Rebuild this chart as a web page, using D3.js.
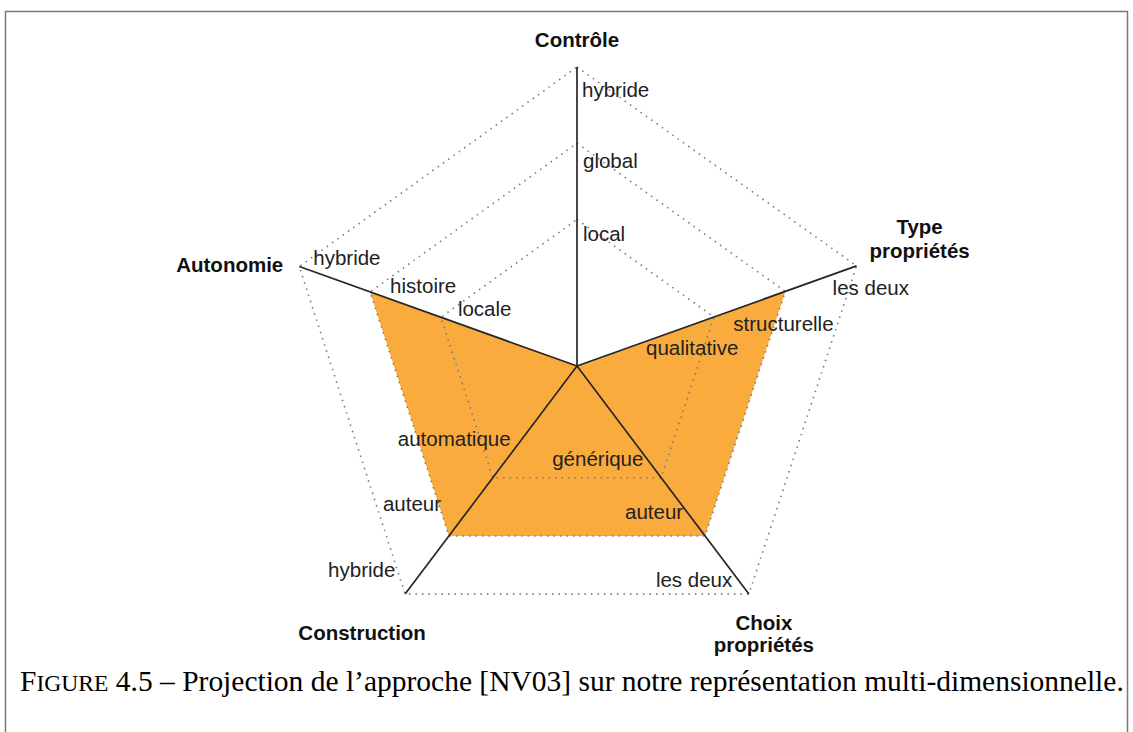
<!DOCTYPE html>
<html>
<head>
<meta charset="utf-8">
<script src="https://cdn.jsdelivr.net/npm/d3@7"></script>
<style>
  html, body { margin: 0; padding: 0; background: #fff; }
  svg { display: block; }
</style>
</head>
<body>
<svg id="chart" width="1133" height="732"></svg>
<script>
// ---------------- DATA ----------------
const axisNames = ["Contrôle", "Type propriétés", "Choix propriétés", "Construction", "Autonomie"];
const axisTitleLines = [["Contrôle"], ["Type", "propriétés"], ["Choix", "propriétés"], ["Construction"], ["Autonomie"]];
const levelValues = [2, 3, 4];
const controleLevels = ["local", "global", "hybride"];
const typeLevels = ["qualitative", "structurelle", "les deux"];
const choixLevels = ["générique", "auteur", "les deux"];
const constructionLevels = ["automatique", "auteur", "hybride"];
const autonomieLevels = ["locale", "histoire", "hybride"];
const nv03Values = [0, 3, 3, 3, 3];
const captionPrefix = "F";
const captionSmallCaps = "IGURE";
const captionRest = " 4.5 – Projection de l’approche [NV03] sur notre représentation multi-dimensionnelle.";

// ---------------- LAYOUT ----------------
const levelLabels = [controleLevels, typeLevels, choixLevels, constructionLevels, autonomieLevels];
const center = [577, 366];
const axisGeom = [
  { angle: 0, len: 299 },
  { angle: 70.3, len: 297 },
  { angle: 143, len: 285.6 },
  { angle: -143, len: 285.6 },
  { angle: -70.3, len: 295 }
];
// label nudges relative to each level point (text-anchor start, baseline)
const labelNudge = [
  [[6, 22], [6, 25], [5, 30]],
  [[-68, 38], [-52, 40], [-24, 29]],
  [[-109, -12], [-80, -17], [-93, -7]],
  [[-95, -32], [-66, -25], [-77, -17]],
  [[17, -1], [20, 1], [14, -2]]
];
const titlePlace = [
  { dx: 0, dy: -20, anchor: "middle", lh: 24 },
  { dx: 63, dy: -32, anchor: "middle", lh: 24 },
  { dx: 15, dy: 36, anchor: "middle", lh: 22 },
  { dx: -43, dy: 46, anchor: "middle", lh: 22 },
  { dx: -16, dy: 5, anchor: "end", lh: 22 }
];

const svg = d3.select("#chart");
const frac = d3.scaleLinear().domain([0, 2, 4]).range([0, 0.49, 1]);

function pt(i, v) {
  const g = axisGeom[i];
  const a = g.angle * Math.PI / 180;
  const r = frac(v) * g.len;
  return [center[0] + r * Math.sin(a), center[1] - r * Math.cos(a)];
}

const closedLine = d3.line().curve(d3.curveLinearClosed);

// Frame
svg.append("path")
  .attr("d", "M5.5,760 L5.5,11.5 L1127.5,11.5 L1127.5,760")
  .attr("fill", "none")
  .attr("stroke", "#777")
  .attr("stroke-width", 1.5);

const g = svg.append("g");

// Filled area (NV03)
g.append("path")
  .attr("d", closedLine(nv03Values.map((v, i) => pt(i, v))))
  .attr("fill", "#faab3e")
  .attr("stroke", "none");

// Grid pentagons (dotted)
g.selectAll("path.grid")
  .data(levelValues)
  .join("path")
  .attr("class", "grid")
  .attr("d", lv => closedLine(axisNames.map((_, i) => pt(i, lv))))
  .attr("fill", "none")
  .attr("stroke", "#7a7a7a")
  .attr("stroke-width", 1.6)
  .attr("stroke-dasharray", "1.5 5")
  .attr("stroke-linecap", "butt");

// Axes
g.selectAll("line.axis")
  .data(axisNames)
  .join("line")
  .attr("class", "axis")
  .attr("x1", center[0]).attr("y1", center[1])
  .attr("x2", (d, i) => pt(i, d3.max(levelValues))[0])
  .attr("y2", (d, i) => pt(i, d3.max(levelValues))[1])
  .attr("stroke", "#262626")
  .attr("stroke-width", 1.7);

// Level labels
axisNames.forEach((name, i) => {
  levelValues.forEach((lv, k) => {
    const p = pt(i, lv);
    g.append("text")
      .attr("x", p[0] + labelNudge[i][k][0])
      .attr("y", p[1] + labelNudge[i][k][1])
      .attr("font-family", "'Liberation Sans', Arial, Helvetica, sans-serif")
      .attr("font-size", 20.5)
      .attr("fill", "#222")
      .text(levelLabels[i][k]);
  });
});

// Axis titles
axisNames.forEach((name, i) => {
  const p = pt(i, d3.max(levelValues));
  const tp = titlePlace[i];
  const t = g.append("text")
    .attr("font-family", "'Liberation Sans', Arial, Helvetica, sans-serif")
    .attr("font-size", 20.5)
    .attr("font-weight", "bold")
    .attr("fill", "#111")
    .attr("text-anchor", tp.anchor);
  axisTitleLines[i].forEach((line, j) => {
    t.append("tspan")
      .attr("x", p[0] + tp.dx)
      .attr("y", p[1] + tp.dy + j * tp.lh)
      .text(line);
  });
});

// Caption
const cap = svg.append("text")
  .attr("x", 20)
  .attr("y", 691)
  .attr("font-family", "'Liberation Serif', 'Times New Roman', serif")
  .attr("fill", "#000");
const base = 28;
cap.append("tspan").attr("class", "big").attr("font-size", base).text(captionPrefix);
cap.append("tspan").attr("class", "sc").attr("font-size", base * 0.8).text(captionSmallCaps);
cap.append("tspan").attr("class", "big").attr("font-size", base).text(captionRest);
const len = cap.node().getComputedTextLength();
const s = base * (1104 / len);
cap.selectAll("tspan.big").attr("font-size", s);
cap.selectAll("tspan.sc").attr("font-size", s * 0.8);
</script>
</body>
</html>
